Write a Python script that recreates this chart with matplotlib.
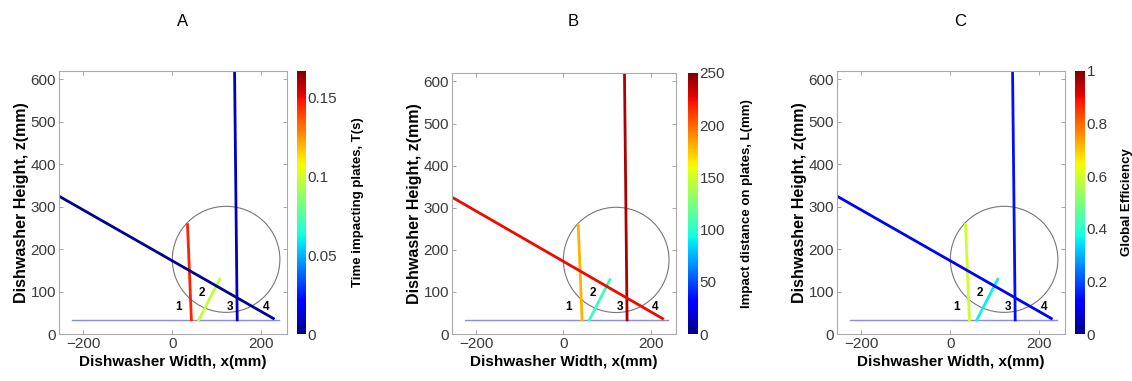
import numpy as np
import matplotlib.pyplot as plt
from matplotlib.patches import Ellipse

plt.rcParams['font.family'] = ['Liberation Sans', 'DejaVu Sans']

# jet segments: 1, 2, 3 (vertical), 4 (diagonal)
seg_x = [[34, 43], [58, 108], [140, 146], [-255, 230]]
seg_z = [[261, 30], [30, 132], [620, 30], [325, 35]]
base_x = [-225, 240]
base_z = [33, 33]

panel_titles = ["A", "B", "C"]
panel_values = [
    [0.146, 0.097, 0.010, 0.003],
    [180, 105, 240, 225],
    [0.60, 0.36, 0.14, 0.12],
]
cbar_limits = [(0, 0.167), (0, 250), (0, 1)]
cbar_ticks = [[0, 0.05, 0.1, 0.15], [0, 50, 100, 150, 200, 250], [0, 0.2, 0.4, 0.6, 0.8, 1]]
cbar_ticklabels = [["0", "0.05", "0.1", "0.15"],
                   ["0", "50", "100", "150", "200", "250"],
                   ["0", "0.2", "0.4", "0.6", "0.8", "1"]]
cbar_labels = ["Time impacting plates, T(s)", "Impact distance on plates, L(mm)", "Global Efficiency"]

label_x = [13, 67, 129, 210]
label_z = [64, 97, 64, 64]
label_txt = ["1", "2", "3", "4"]

W, H = 1132, 381
fig = plt.figure(figsize=(W / 100, H / 100), dpi=100)

# pixel boxes: axes (left, right, top, bottom), colorbar (left, right), colorbar label x, title x
ax_px = [(59, 287, 71, 334), (452, 676, 73, 334), (837, 1065, 71, 334)]
cb_px = [(297, 306), (688, 698), (1075, 1085)]
cbl_x = [358, 747, 1127]
title_x = [183, 573, 960]

cmap = plt.get_cmap("jet")

for i in range(3):
    l, r, t, b = ax_px[i]
    ax = fig.add_axes([l / W, 1 - b / H, (r - l) / W, (b - t) / H])
    vmin, vmax = cbar_limits[i]
    norm = plt.Normalize(vmin, vmax)

    ax.plot(base_x, base_z, color="#8a8ae8", lw=1.0)
    ax.add_patch(Ellipse((121, 176), 242, 250, fill=False, ec="#777777", lw=0.8))
    for xs, zs, v in zip(seg_x, seg_z, panel_values[i]):
        ax.plot(xs, zs, color=cmap(norm(v)), lw=2.0, solid_capstyle="butt")
    for x, z, s in zip(label_x, label_z, label_txt):
        ax.text(x, z, s, fontsize=8.5, fontweight="bold", ha="center", va="center")

    ax.set_xlim(-255, 258)
    ax.set_ylim(0, 620)
    ax.set_xticks([-200, 0, 200])
    ax.set_yticks([0, 100, 200, 300, 400, 500, 600])
    ax.tick_params(direction="in", length=3, width=0.6, colors="#999999",
                   labelcolor="#3a3a3a", labelsize=11, top=True, right=True, pad=2)
    for sp in ax.spines.values():
        sp.set_color("#aaaaaa")
        sp.set_linewidth(0.8)
    ax.set_xlabel("Dishwasher Width, x(mm)", fontsize=11, fontweight="bold", labelpad=3)
    ax.set_ylabel("Dishwasher Height, z(mm)", fontsize=11.5, fontweight="bold", labelpad=1)

    # colorbar strip
    cl, cr = cb_px[i]
    cax = fig.add_axes([cl / W, 1 - b / H, (cr - cl) / W, (b - t) / H])
    sm = plt.cm.ScalarMappable(norm=norm, cmap=cmap)
    cb = fig.colorbar(sm, cax=cax)
    cb.set_ticks(cbar_ticks[i])
    cb.set_ticklabels(cbar_ticklabels[i])
    cb.outline.set_visible(False)
    cax.tick_params(length=0, labelsize=11, labelcolor="#3a3a3a", pad=1)
    fig.text(cbl_x[i] / W, 1 - (t + b) / 2 / H, cbar_labels[i], rotation=90,
             fontsize=9.5, fontweight="bold", ha="center", va="center")

    fig.text(title_x[i] / W, 1 - 22 / H, panel_titles[i], fontsize=12,
             ha="center", va="center")

fig.savefig("out.png", dpi=100)
